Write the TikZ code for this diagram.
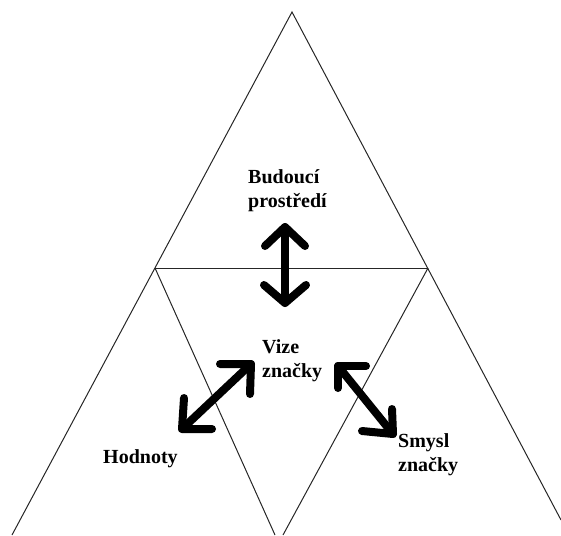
\documentclass[tikz,border=0pt]{standalone}
\usepackage{fontspec}
\setmainfont{Liberation Serif}
\begin{document}
\begin{tikzpicture}[x=1pt,y=-1pt,
  thin line/.style={line width=1pt,draw=black!85},
  big arrow/.style={line width=8pt,line cap=round,line join=round,draw=black},
  lbl/.style={font=\fontsize{20}{23.5}\selectfont\bfseries,align=left,inner sep=0pt,anchor=base west}]
\useasboundingbox (0,0) rectangle (561,535);
\clip (0,0) rectangle (561,535);
% frame of triangles
\coordinate (apex) at (292,12);
\coordinate (bl) at (12,535);
\coordinate (br) at (561,520);
\coordinate (ml) at (155,268);
\coordinate (mr) at (428,268);
\coordinate (il) at (275,535);
\coordinate (ir) at (283,535);
\draw[thin line] (bl) -- (apex) -- (br);
\draw[thin line] (ml) -- (mr);
\draw[thin line] (ml) -- (il);
\draw[thin line] (mr) -- (ir);
% labels (base anchor = baseline of last line)
\node[lbl] (bud) at (248,207) {Budoucí\\prostředí};
\node[lbl] (viz) at (262,377) {Vize\\značky};
\node[lbl] (hod) at (103,463) {Hodnoty};
\node[lbl] (smy) at (398,471) {Smysl\\značky};
% vertical arrow
\coordinate (vt) at (285,227);
\coordinate (vb) at (285,303);
\draw[big arrow] (vt) -- (vb);
\draw[big arrow] (265,246) -- (vt) -- (305,246);
\draw[big arrow] (264,285) -- (vb) -- (306,285);
% left diagonal arrow
\coordinate (lt) at (251,364);
\coordinate (lb) at (182,429);
\draw[big arrow] (lt) -- (lb);
\draw[big arrow] (220,364) -- (lt) -- (250,394);
\draw[big arrow] (184,398) -- (lb) -- (212,429);
% right diagonal arrow
\coordinate (rt) at (338,366);
\coordinate (rb) at (393,434);
\draw[big arrow] (rt) -- (rb);
\draw[big arrow] (366,366) -- (rt) -- (338,388);
\draw[big arrow] (392,409) -- (rb) -- (362,431);
\end{tikzpicture}
\end{document}
